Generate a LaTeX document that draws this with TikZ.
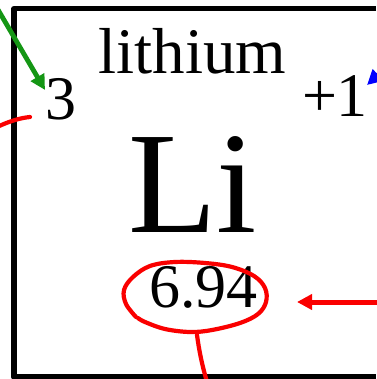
\documentclass[tikz,border=0pt]{standalone}
\usepackage{fontspec}
\setmainfont{Liberation Serif}
\usetikzlibrary{arrows.meta}
\definecolor{agreen}{RGB}{20,150,20}
\definecolor{ared}{RGB}{250,0,0}
\definecolor{ablue}{RGB}{0,0,255}
\tikzset{
  txt/.style={inner sep=0pt,anchor=base},
  smalltxt/.style={txt,font=\fontsize{62}{62}\selectfont},
  nametxt/.style={txt,font=\fontsize{65}{65}\selectfont},
  bigtxt/.style={txt,font=\fontsize{145}{145}\selectfont},
  pen/.style={line width=4.2pt,line cap=round,line join=round},
  tip/.style={-{Triangle[length=15pt,width=15pt]}}
}
\begin{document}
\begin{tikzpicture}[x=1pt,y=-1pt]
\fill[white] (0,0) rectangle (376,379);
\useasboundingbox (0,0) rectangle (376,379);
% element box
\draw[line width=5.2pt,line join=round] (376,8.5) -- (14,8.5) -- (14,377) -- (376,377);
% texts
\node[nametxt] (name) at (192.5,74) {lithium};
\node[smalltxt] (num) at (61,120) {3};
\node[smalltxt] (chg) at (335,117) {+1};
\node[bigtxt] (sym) at (192.5,232) {Li};
\node[smalltxt] (mass) at (203.5,307) {6.94};
% endpoints
\coordinate (gs) at (-3,8);
\coordinate (gt) at (45,90);
\coordinate (bs) at (390,64);
\coordinate (bt) at (367,85);
\coordinate (rs) at (380,302);
\coordinate (rt) at (297,302);
% arrows
\draw[pen,agreen,tip,line width=4.8pt] (gs) -- (gt);
\draw[pen,ablue,tip,line width=4.8pt] (bs) -- (bt);
\draw[pen,ared,tip,line width=5pt] (rs) -- (rt);
% hand drawn red marks
\draw[pen,ared] (-3,127) .. controls (10,121) and (20,118) .. (30,117);
\draw[pen,ared] plot[smooth,tension=0.6] coordinates {(136,317) (126,304) (124,290) (133,277) (150,266) (175,262) (205,263) (232,267) (254,276) (265,288) (266,302) (258,314) (240,323) (212,330) (190,332) (165,329) (145,322) (138,318)};
\draw[pen,ared] (197,335) .. controls (199,350) and (202,365) .. (207,382);
\end{tikzpicture}
\end{document}
